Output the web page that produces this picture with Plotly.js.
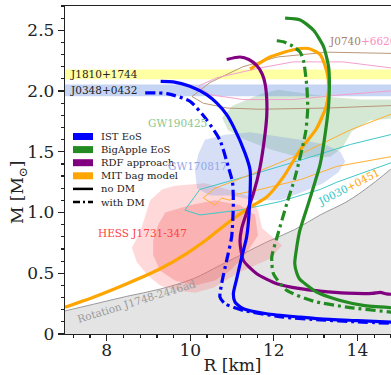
<!DOCTYPE html>
<html>
<head>
<meta charset="utf-8">
<script src="https://cdn.plot.ly/plotly-3.0.1.min.js"></script>
<style>
  html, body { margin: 0; padding: 0; overflow: hidden; background: #fff; }
  #plot { width: 400px; height: 375px; }
</style>
</head>
<body>
<div id="plot"></div>
<script>
// ---- Mass–radius curves (R in km, M in solar masses) ----
const istR   = [9.29, 9.59, 9.99, 10.39, 10.63, 10.87, 11.03, 11.31, 11.43, 11.42, 11.35, 11.23, 11.10, 11.03, 11.07, 11.27, 11.83, 12.63, 13.10, 14.00, 15.02];
const istM   = [2.08, 2.076, 2.04, 1.971, 1.903, 1.806, 1.709, 1.489, 1.351, 1.076, 0.80, 0.633, 0.44, 0.33, 0.262, 0.208, 0.167, 0.139, 0.125, 0.11, 0.094];
const istDmR = [8.92, 9.44, 9.99, 10.39, 10.71, 10.91, 11.01, 11.03, 10.99, 10.87, 10.75, 10.71, 10.83, 11.27, 12.23, 13.11, 14.00, 15.02];
const istDmM = [1.985, 1.979, 1.916, 1.764, 1.595, 1.375, 1.25, 1.073, 0.80, 0.606, 0.414, 0.303, 0.249, 0.194, 0.139, 0.117, 0.10, 0.085];

const bigR   = [12.27, 12.63, 12.95, 13.19, 13.31, 13.33, 13.31, 13.23, 13.11, 12.85, 12.62, 12.55, 12.50, 12.55, 12.62, 12.80, 12.95, 13.11, 13.59, 14.14, 14.81, 15.02];
const bigM   = [2.60, 2.585, 2.50, 2.365, 2.20, 2.035, 1.88, 1.65, 1.40, 1.10, 0.85, 0.72, 0.58, 0.50, 0.45, 0.40, 0.36, 0.331, 0.276, 0.235, 0.216, 0.212];
const bigDmR = [12.07, 12.23, 12.45, 12.63, 12.71, 12.79, 12.81, 12.76, 12.51, 12.31, 12.07, 11.95, 11.99, 12.31, 12.95, 13.75, 14.81, 15.02];
const bigDmM = [2.414, 2.405, 2.37, 2.32, 2.25, 2.035, 1.85, 1.66, 1.293, 1.073, 0.79, 0.633, 0.496, 0.359, 0.27, 0.221, 0.18, 0.175];

const rdfR   = [10.87, 11.19, 11.40, 11.59, 11.72, 11.79, 11.83, 11.83, 11.79, 11.67, 11.51, 11.35, 11.23, 11.19, 11.27, 11.59, 12.07, 12.63, 13.11, 13.75, 14.35, 14.55, 14.70, 15.02];
const rdfM   = [2.26, 2.28, 2.26, 2.21, 2.14, 2.06, 1.93, 1.80, 1.65, 1.375, 1.156, 1.00, 0.87, 0.76, 0.606, 0.496, 0.414, 0.373, 0.353, 0.336, 0.334, 0.343, 0.330, 0.324];

const mitR   = [11.43, 11.91, 12.47, 12.83, 13.11, 13.28, 13.31, 13.25, 13.02, 12.63, 12.23, 11.83, 11.43, 10.87, 10.40, 9.90, 9.28, 8.48, 7.68, 7.00];
const mitM   = [2.18, 2.28, 2.34, 2.35, 2.30, 2.145, 2.007, 1.87, 1.69, 1.516, 1.293, 1.128, 1.045, 0.908, 0.78, 0.66, 0.537, 0.414, 0.303, 0.221];

// ---- Mass-shedding limit of the 716 Hz pulsar ----
const rotR = [7.0, 7.68, 8.48, 9.28, 10.07, 10.71, 11.19, 11.83, 12.5, 13.11, 13.75, 14.3, 15.02];
const rotM = [0.19, 0.245, 0.31, 0.37, 0.455, 0.565, 0.647, 0.757, 0.86, 0.98, 1.09, 1.22, 1.42];

// ---- Observational constraints ----
const bandNames = ['J1810+1744', 'J0348+0432'];
const bandMass  = [2.137, 2.006];
const bandErr   = [0.041, 0.048];

const gw190425R = [11.02, 11.36, 11.72, 12.10, 12.51, 13.35, 14.07, 15.1, 15.1, 14.31, 13.87, 13.63, 13.35, 12.63, 11.91, 11.31, 10.90, 10.76];
const gw190425M = [1.88, 1.93, 1.98, 2.01, 1.99, 1.95, 1.93, 1.93, 1.78, 1.76, 1.67, 1.53, 1.46, 1.45, 1.52, 1.60, 1.68, 1.78];

const gw170817R = [10.35, 10.83, 11.43, 12.03, 12.63, 13.23, 13.59, 13.71, 13.54, 13.18, 12.63, 12.15, 11.55, 10.95, 10.47, 10.16, 10.11, 10.19];
const gw170817M = [1.60, 1.64, 1.66, 1.63, 1.60, 1.56, 1.50, 1.42, 1.33, 1.24, 1.16, 1.10, 1.10, 1.14, 1.14, 1.20, 1.35, 1.48];

const hessOuterR = [9.63, 10.35, 10.90, 11.43, 11.62, 11.72, 12.20, 11.91, 11.19, 10.55, 10.11, 9.63, 9.28, 8.99, 8.72, 8.60, 8.80, 8.92, 9.04, 9.32];
const hessOuterM = [1.22, 1.24, 1.19, 1.13, 1.02, 0.87, 0.73, 0.62, 0.51, 0.38, 0.34, 0.36, 0.40, 0.48, 0.59, 0.71, 0.84, 0.98, 1.10, 1.19];
const hessInnerR = [9.40, 9.99, 10.59, 11.19, 11.55, 11.62, 11.31, 10.95, 10.59, 10.11, 9.63, 9.28, 9.11, 9.11, 9.23];
const hessInnerM = [1.00, 1.06, 1.10, 1.06, 0.98, 0.81, 0.65, 0.52, 0.44, 0.40, 0.44, 0.52, 0.65, 0.77, 0.90];

const j0740aR = [10.04, 10.47, 11.26, 12.08, 13.28, 14.78, 15.5, 15.5, 14.78, 13.28, 11.67, 10.88, 10.31, 10.04];
const j0740aM = [1.955, 2.07, 2.20, 2.28, 2.32, 2.31, 2.29, 1.90, 1.88, 1.86, 1.85, 1.86, 1.90, 1.955];
const j0740bR = [10.19, 10.64, 11.67, 12.46, 13.66, 14.78, 15.5, 15.5, 14.78, 13.66, 12.46, 11.26, 10.47, 10.19];
const j0740bM = [2.04, 2.11, 2.19, 2.24, 2.24, 2.19, 2.16, 2.02, 2.00, 1.97, 1.93, 1.93, 1.97, 2.04];

const j0030aR = [9.87, 10.23, 11.26, 12.63, 13.83, 14.81, 15.5, 15.5, 14.81, 13.51, 13.11, 12.15, 11.19, 10.23, 9.87];
const j0030aM = [1.02, 1.19, 1.29, 1.43, 1.56, 1.64, 1.70, 1.43, 1.41, 1.25, 1.19, 1.09, 1.02, 0.98, 1.02];
const j0030bR = [10.31, 10.59, 11.43, 12.63, 13.83, 14.81, 15.5, 15.5, 14.81, 13.51, 12.63, 11.67, 11.10, 10.95, 10.75, 10.59, 10.31];
const j0030bM = [1.12, 1.20, 1.31, 1.48, 1.68, 1.81, 1.86, 1.48, 1.46, 1.38, 1.27, 1.19, 1.15, 1.10, 1.12, 1.06, 1.12];

// ---- Axes ----
const xRange = [7, 15.02];
const yRange = [0, 2.7];
const xTicks = [8, 10, 12, 14];
const yTicks = [0, 0.5, 1.0, 1.5, 2.0, 2.5];
const yTickText = ['0', '0.5', '1.0', '1.5', '2.0', '2.5'];

// ---- Legend ----
const eosNames  = ['IST EoS', 'BigApple EoS', 'RDF approach', 'MIT bag model'];
const eosColors = ['#0000ff', '#228b22', '#800080', '#ffa500'];
const styleNames = ['no DM', 'with DM'];

const FONT = 'DejaVu Serif, serif';
const DASHDOT = '10px,4px,3px,4px';

function area(x, y, fill) {
  return { x, y, type: 'scatter', mode: 'lines', fill: 'toself', fillcolor: fill,
           line: { width: 0 }, hoverinfo: 'skip', showlegend: false };
}
function contour(x, y, color) {
  return { x, y, type: 'scatter', mode: 'lines', line: { color, width: 1 },
           hoverinfo: 'skip', showlegend: false };
}
function curve(x, y, color, dash) {
  return { x, y, type: 'scatter', mode: 'lines',
           line: { color, width: 3.2, dash: dash || 'solid', shape: 'spline', smoothing: 0.6 },
           showlegend: false };
}

const traces = [];
// rotation limit: excluded region below the line
traces.push({ x: rotR, y: rotM, type: 'scatter', mode: 'lines', fill: 'tozeroy',
              fillcolor: '#e4e4e4', line: { color: '#9a9a9a', width: 1, shape: 'spline' },
              showlegend: false, hoverinfo: 'skip' });
traces.push(area(hessOuterR, hessOuterM, 'rgba(255,120,120,0.28)'));
traces.push(area(hessInnerR, hessInnerM, 'rgba(240,100,100,0.33)'));
traces.push(area(gw190425R, gw190425M, 'rgba(120,185,120,0.32)'));
traces.push(area(gw170817R, gw170817M, 'rgba(120,150,225,0.30)'));

const bandFill = ['rgba(255,255,50,0.45)', 'rgba(110,150,225,0.40)'];
bandMass.forEach((m, i) => {
  traces.push(area([xRange[0], xRange[1], xRange[1], xRange[0]],
                   [m - bandErr[i], m - bandErr[i], m + bandErr[i], m + bandErr[i]], bandFill[i]));
});

traces.push(contour(j0740aR, j0740aM, '#b9977a'));
traces.push(contour(j0740bR, j0740bM, '#f4a0cc'));
traces.push(contour(j0030aR, j0030aM, '#40c8c8'));
traces.push(contour(j0030bR, j0030bM, '#ffb030'));

traces.push(curve(mitR, mitM, eosColors[3]));
traces.push(curve(rdfR, rdfM, eosColors[2]));
traces.push(curve(bigDmR, bigDmM, eosColors[1], DASHDOT));
traces.push(curve(bigR, bigM, eosColors[1]));
traces.push(curve(istDmR, istDmM, eosColors[0], DASHDOT));
traces.push(curve(istR, istM, eosColors[0]));

// ---- Layout geometry (pixels) ----
const W = 400, H = 375, ML = 65, MT = 6, MB = 41;
const PW = W - ML, PH = H - MT - MB;
const px2x = p => (p - ML) / PW;
const py2y = p => (MT + PH - p) / PH;

const shapes = [];
const annotations = [];

// hand-built legend: colour patches then line styles
const legTop = 136.5, legStep = 13.1, legX0 = 73, legX1 = 93, legText = 99;
eosNames.forEach((name, i) => {
  const yc = legTop + i * legStep;
  shapes.push({ type: 'rect', xref: 'paper', yref: 'paper',
                x0: px2x(legX0), x1: px2x(legX1), y0: py2y(yc + 3.5), y1: py2y(yc - 3.5),
                fillcolor: eosColors[i], line: { width: 0 } });
  annotations.push({ xref: 'paper', yref: 'paper', x: px2x(legText), y: py2y(yc),
                     text: name, showarrow: false, xanchor: 'left', yanchor: 'middle',
                     font: { family: FONT, size: 10, color: '#222' } });
});
styleNames.forEach((name, j) => {
  const yc = legTop + (eosNames.length + j) * legStep;
  shapes.push({ type: 'line', xref: 'paper', yref: 'paper',
                x0: px2x(legX0), x1: px2x(legX1), y0: py2y(yc), y1: py2y(yc),
                line: { color: '#000', width: 2.5, dash: j === 0 ? 'solid' : '7px,3px,2px,3px' } });
  annotations.push({ xref: 'paper', yref: 'paper', x: px2x(legText), y: py2y(yc),
                     text: name, showarrow: false, xanchor: 'left', yanchor: 'middle',
                     font: { family: FONT, size: 10, color: '#222' } });
});

// region labels
function label(x, y, text, color, opts) {
  annotations.push(Object.assign({ x, y, xref: 'x', yref: 'y', text, showarrow: false,
    font: { family: FONT, size: 10.5, color } }, opts || {}));
}
label(7.07, bandMass[0], bandNames[0], '#222', { xanchor: 'left' });
label(7.07, bandMass[1], bandNames[1], '#222', { xanchor: 'left' });
label(13.28, 2.415, '<span style="color:#a8805f">J0740</span><span style="color:#ff8cc6">+6620</span>', '#a8805f', { xanchor: 'left' });
label(9.69, 1.74, 'GW190425', '#8cc68c');
label(10.17, 1.387, 'GW170817', '#94a8ea');
label(8.86, 0.83, 'HESS J1731-347', '#ff4040');
label(8.72, 0.269, 'Rotation J1748-2446ad', '#999', { textangle: -17 });
label(13.78, 1.21, '<span style="color:#2ec4c4">J0030</span><span style="color:#ffa500">+0451</span>', '#2ec4c4', { textangle: -27 });

// y-axis title
annotations.push({ xref: 'paper', yref: 'paper', x: px2x(19), y: py2y(193),
                   xanchor: 'center', yanchor: 'middle',
                   text: 'M [M<sub>⊙</sub>]', textangle: -90, showarrow: false,
                   font: { family: FONT, size: 17, color: '#222' } });

const axisCommon = {
  showgrid: false, zeroline: false, showline: true, mirror: true,
  linecolor: '#222', linewidth: 1.2, ticks: 'outside', ticklen: 6, tickwidth: 1.2,
  tickcolor: '#222', tickfont: { family: FONT, size: 17, color: '#222' }
};

const layout = {
  width: W, height: H,
  margin: { l: ML, r: 0, t: MT, b: MB },
  paper_bgcolor: '#fff', plot_bgcolor: '#fff',
  showlegend: false,
  xaxis: Object.assign({}, axisCommon, {
    range: xRange, tickmode: 'array', tickvals: xTicks, ticklabelstandoff: -6,
    minor: { tickmode: 'linear', tick0: 0, dtick: 0.4, ticks: 'outside', ticklen: 3, tickcolor: '#222' },
    title: { text: 'R [km]', font: { family: FONT, size: 17, color: '#222' }, standoff: 4 }
  }),
  yaxis: Object.assign({}, axisCommon, {
    range: yRange, tickmode: 'array', tickvals: yTicks, ticktext: yTickText,
    minor: { tickmode: 'linear', tick0: 0, dtick: 0.1, ticks: 'outside', ticklen: 3, tickcolor: '#222' }
  }),
  shapes, annotations
};

Plotly.newPlot('plot', traces, layout, { staticPlot: true, displayModeBar: false });
</script>
</body>
</html>
